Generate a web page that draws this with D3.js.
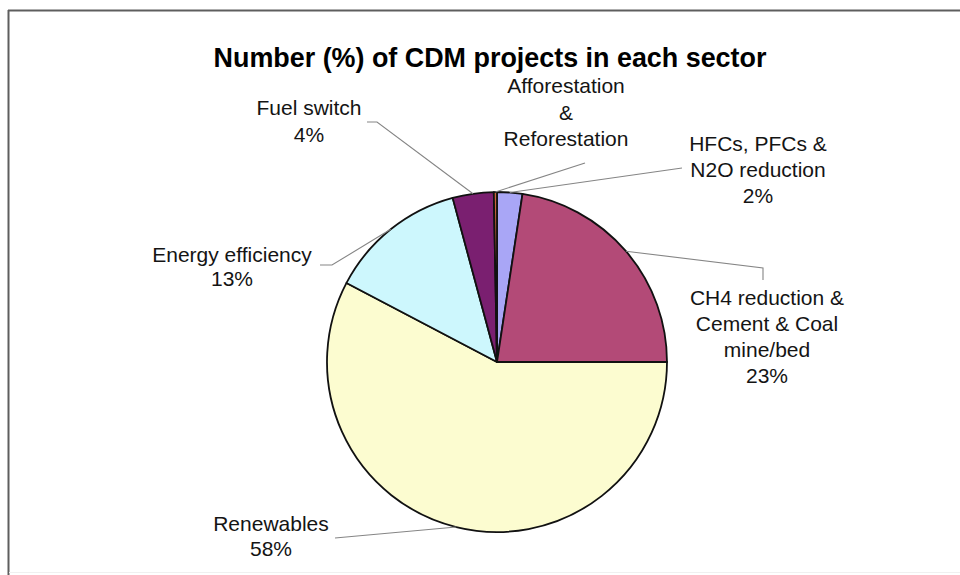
<!DOCTYPE html>
<html>
<head>
<meta charset="utf-8">
<script src="https://cdn.jsdelivr.net/npm/d3@7/dist/d3.min.js"></script>
<style>
  html, body { margin: 0; padding: 0; background: #fff; }
  svg { display: block; }
  text { font-family: "Liberation Sans", Arial, Helvetica, sans-serif; fill: #141414; }
</style>
</head>
<body>
<svg id="chart" width="960" height="575"></svg>
<script>
// Sector shares (%) of CDM projects, clockwise from 12 o'clock
const sectors = [
  "HFCs, PFCs & N2O reduction",
  "CH4 reduction & Cement & Coal mine/bed",
  "Renewables",
  "Energy efficiency",
  "Fuel switch",
  "Afforestation & Reforestation"
];
const shares = [2.4, 22.6, 57.7, 13.1, 3.9, 0.3];
const showPercent = [true, true, true, true, true, false];
const sliceColors = ["#a9a6f6", "#b34a77", "#fcfcd0", "#cdf7fd", "#7a1f70", "#c8643c"];
const chartTitle = "Number (%) of CDM projects in each sector";

// Label placement: text lines, centre x, first baseline, line spacing, leader bends
const labelLayout = {
  "HFCs, PFCs & N2O reduction": { lines: ["HFCs, PFCs &", "N2O reduction"], x: 758, y: 151, lh: 26, leader: [[682, 168]] },
  "CH4 reduction & Cement & Coal mine/bed": { lines: ["CH4 reduction &", "Cement & Coal", "mine/bed"], x: 767, y: 305, lh: 26, leader: [[763, 268], [763, 280]] },
  "Renewables": { lines: ["Renewables"], x: 271, y: 531, lh: 25, leader: [[335, 538]] },
  "Energy efficiency": { lines: ["Energy efficiency"], x: 232, y: 262, lh: 24, leader: [[332, 265], [320, 265]] },
  "Fuel switch": { lines: ["Fuel switch"], x: 309, y: 115, lh: 26.5, leader: [[377, 122], [367, 122]] },
  "Afforestation & Reforestation": { lines: ["Afforestation", "&", "Reforestation"], x: 566, y: 93, lh: 26.5, leader: [[585, 163]] }
};

const svg = d3.select("#chart");
const W = 960, H = 575;
const cx = 497, cy = 362, R = 170;

svg.append("rect").attr("width", W).attr("height", H).attr("fill", "#fff");

// Frame
svg.append("line").attr("x1", 8).attr("y1", 10.5).attr("x2", W).attr("y2", 10.5)
  .attr("stroke", "#5e5e5e").attr("stroke-width", 2);
svg.append("line").attr("x1", 8.5).attr("y1", 10).attr("x2", 8.5).attr("y2", H)
  .attr("stroke", "#5e5e5e").attr("stroke-width", 2);
svg.append("line").attr("x1", 9).attr("y1", 572.5).attr("x2", W).attr("y2", 572.5)
  .attr("stroke", "#f0f0f0").attr("stroke-width", 1);

// Title
svg.append("text")
  .attr("x", 490).attr("y", 67)
  .attr("text-anchor", "middle")
  .attr("font-size", 26.9).attr("font-weight", "bold")
  .style("fill", "#000")
  .text(chartTitle);

const data = sectors.map((s, i) => ({ sector: s, value: shares[i], color: sliceColors[i], pct: showPercent[i] }));

const pie = d3.pie().sort(null).value(d => d.value).startAngle(0).endAngle(2 * Math.PI);
const arcs = pie(data);
const arc = d3.arc().innerRadius(0).outerRadius(R);

const g = svg.append("g").attr("transform", `translate(${cx},${cy})`);
g.selectAll("path.slice")
  .data(arcs)
  .join("path")
  .attr("class", "slice")
  .attr("d", arc)
  .attr("fill", d => d.data.color)
  .attr("stroke", "#111")
  .attr("stroke-width", 1.8)
  .attr("stroke-linejoin", "round");

// Leader lines from the rim at each slice's mid-angle
const fmtPct = v => d3.format(".0f")(v) + "%";
arcs.forEach(a => {
  const L = labelLayout[a.data.sector];
  const mid = (a.startAngle + a.endAngle) / 2;
  const start = [cx + R * Math.sin(mid), cy - R * Math.cos(mid)];
  const pts = [start].concat(L.leader);
  svg.append("path")
    .attr("d", d3.line()(pts))
    .attr("fill", "none")
    .attr("stroke", "#858585")
    .attr("stroke-width", 1.1);

  const lines = L.lines.slice();
  if (a.data.pct) lines.push(fmtPct(a.data.value));
  const t = svg.append("text")
    .attr("text-anchor", "middle")
    .attr("font-size", 21);
  lines.forEach((ln, i) => {
    t.append("tspan").attr("x", L.x).attr("y", L.y + i * L.lh).text(ln);
  });
});
</script>
</body>
</html>
